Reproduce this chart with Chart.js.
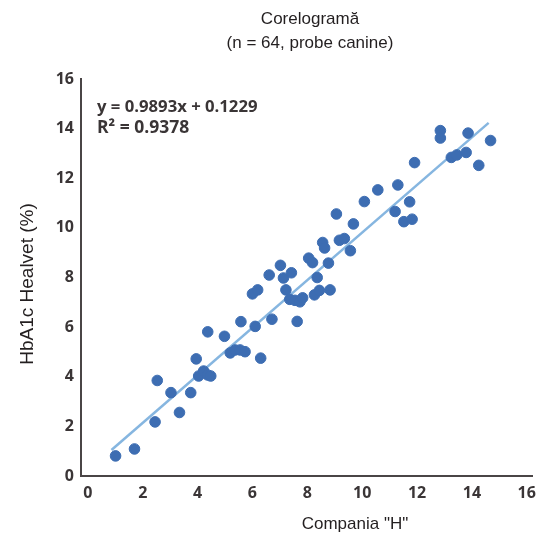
<!DOCTYPE html>
<html>
<head>
<meta charset="utf-8">
<script src="https://cdn.jsdelivr.net/npm/chart.js@4/dist/chart.umd.min.js"></script>
<style>
  html, body { margin: 0; padding: 0; background: #ffffff; }
  #c { display: block; }
</style>
</head>
<body>
<canvas id="c" width="544" height="540"></canvas>
<script>
// ---- data ----
const companiaH = [1.01, 1.70, 2.45, 2.53, 3.03, 3.34, 3.75, 3.95, 4.04, 4.22, 4.37, 4.48, 4.37, 4.98, 5.19, 5.37,
  5.55, 5.73, 5.58, 6.10, 6.30, 6.71, 6.00, 6.19, 6.61, 7.02, 7.13, 7.42, 7.22, 7.36, 7.55, 7.73,
  7.83, 7.63, 8.05, 8.19, 8.36, 8.26, 8.44, 8.83, 8.77, 8.56, 8.63, 9.17, 9.35, 9.57, 9.06, 9.68,
  10.08, 10.57, 11.30, 11.20, 11.52, 11.82, 11.73, 11.91, 12.85, 12.85, 13.86, 14.68, 13.25, 13.45, 13.79, 14.25];
const healvet = [0.81, 1.09, 2.18, 3.85, 3.36, 2.56, 3.36, 4.72, 4.03, 4.23, 4.07, 4.03, 5.81, 5.63, 4.96, 5.08,
  5.08, 5.01, 6.22, 6.03, 4.75, 6.32, 7.34, 7.50, 8.10, 8.49, 7.98, 8.19, 7.50, 7.12, 7.08, 7.02,
  7.18, 6.23, 8.78, 8.60, 8.00, 7.30, 7.48, 7.50, 8.58, 9.41, 9.19, 9.50, 9.57, 9.08, 10.56, 10.16,
  11.06, 11.53, 11.73, 10.66, 10.25, 10.35, 11.05, 12.63, 13.92, 13.62, 13.82, 13.52, 12.84, 12.94, 13.04, 12.52];
const trendX = [0.86, 14.61];
const trendY = [1.05, 14.23];
const tickValues = [0, 2, 4, 6, 8, 10, 12, 14, 16];
const titleLines = ["Corelogramă", "(n = 64, probe canine)"];
const xTitle = 'Compania "H"';
const yTitle = "HbA1c Healvet (%)";
const equationLines = ["y = 0.9893x + 0.1229", "R² = 0.9378"];

const points = companiaH.map((x, i) => ({ x: x, y: healvet[i] }));
const trend = trendX.map((x, i) => ({ x: x, y: trendY[i] }));

const textPlugin = {
  id: 'textPlugin',
  afterDraw(chart) {
    const ctx = chart.ctx;
    ctx.save();
    ctx.fillStyle = '#231f20';
    ctx.textAlign = 'center';
    ctx.textBaseline = 'middle';
    ctx.font = '17px "Liberation Sans", Arial, sans-serif';
    ctx.fillText(titleLines[0], 310, 19);
    ctx.fillText(titleLines[1], 310, 43);
    ctx.fillText(xTitle, 355, 524);
    ctx.save();
    ctx.translate(28, 284);
    ctx.rotate(-Math.PI / 2);
    ctx.font = '19px "Liberation Sans", Arial, sans-serif';
    ctx.fillText(yTitle, 0, 0);
    ctx.restore();
    ctx.fillStyle = '#3a3536';
    ctx.textAlign = 'left';
    ctx.font = 'bold 16.7px "Open Sans", sans-serif';
    ctx.fillText(equationLines[0], 97, 107);
    ctx.font = 'bold 17.5px "Open Sans", sans-serif';
    ctx.fillText(equationLines[1], 97, 128);
    ctx.restore();
  }
};

new Chart(document.getElementById('c'), {
  type: 'scatter',
  data: {
    datasets: [
      {
        label: 'probe',
        data: points,
        backgroundColor: '#3d6db2',
        borderColor: '#3d6db2',
        pointRadius: 5.3,
        pointHoverRadius: 5.3,
        order: 0
      },
      {
        label: 'trend',
        type: 'line',
        data: trend,
        showLine: true,
        borderColor: '#86b6e0',
        borderWidth: 2.5,
        pointRadius: 0,
        fill: false,
        order: 1
      }
    ]
  },
  options: {
    responsive: false,
    animation: false,
    events: [],
    layout: { padding: { left: 0, right: 7, top: 79, bottom: 0 } },
    plugins: {
      legend: { display: false },
      tooltip: { enabled: false },
      title: { display: false }
    },
    scales: {
      x: {
        type: 'linear',
        min: -0.25,
        max: 16.2,
        afterBuildTicks(scale) { scale.ticks = tickValues.map(v => ({ value: v })); },
        afterFit(scale) { scale.height = 64; },
        grid: { display: false, drawTicks: false },
        border: { display: true, color: '#4a4546', width: 2 },
        ticks: {
          padding: 8,
          color: '#3a3536',
          font: { family: '"Open Sans", sans-serif', size: 16, weight: 'bold' },
          maxRotation: 0
        }
      },
      y: {
        type: 'linear',
        min: 0,
        max: 16,
        afterBuildTicks(scale) { scale.ticks = tickValues.map(v => ({ value: v })); },
        afterFit(scale) { scale.width = 81; },
        grid: { display: false, drawTicks: false },
        border: { display: true, color: '#4a4546', width: 2 },
        ticks: {
          padding: 7,
          color: '#3a3536',
          font: { family: '"Open Sans", sans-serif', size: 16, weight: 'bold' }
        }
      }
    }
  },
  plugins: [textPlugin]
});
</script>
</body>
</html>
